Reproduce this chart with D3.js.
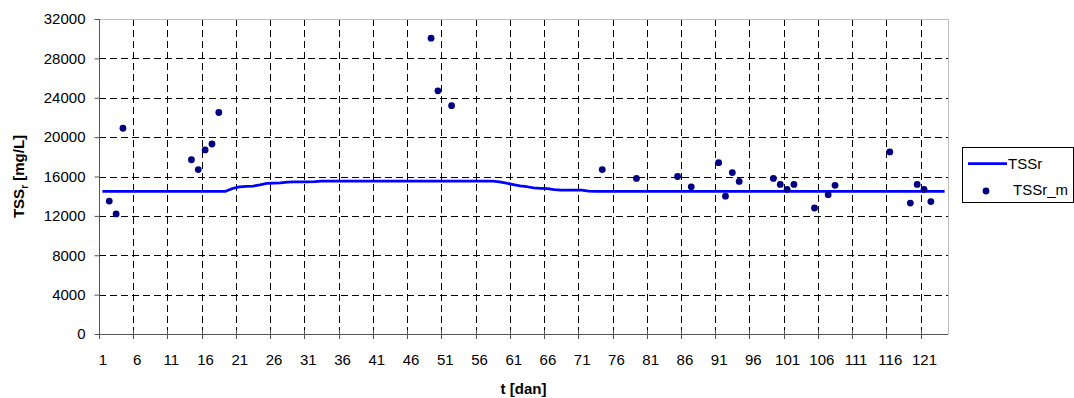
<!DOCTYPE html>
<html>
<head>
<meta charset="utf-8">
<script src="https://cdn.jsdelivr.net/npm/d3@7"></script>
<style>
  body { margin: 0; background: #fff; }
  svg { display: block; font-family: "Liberation Sans", Arial, sans-serif; }
</style>
</head>
<body>
<svg id="chart" width="1074" height="398"></svg>
<script>
// ---- data ----
const dayCount = 124;
const xTickLabels = [1, 6, 11, 16, 21, 26, 31, 36, 41, 46, 51, 56, 61, 66, 71, 76, 81, 86, 91, 96, 101, 106, 111, 116, 121];
const yTicks = [0, 4000, 8000, 12000, 16000, 20000, 24000, 28000, 32000];

// TSSr model line, one value per day (day 1..124)
const tssrLine = [
  14500, 14500, 14500, 14500, 14500, 14500, 14500, 14500, 14500, 14500,
  14500, 14500, 14500, 14500, 14500, 14500, 14500, 14500, 14500, 14780,
  14950, 15000, 15020, 15150, 15300, 15330, 15350, 15440, 15460, 15460,
  15460, 15470, 15530, 15530, 15530, 15530, 15530, 15530, 15530, 15530,
  15530, 15530, 15530, 15530, 15530, 15530, 15530, 15530, 15530, 15530,
  15530, 15530, 15530, 15530, 15530, 15530, 15530, 15530, 15450, 15320,
  15180, 15050, 14960, 14850, 14800, 14760, 14660, 14620, 14620, 14620,
  14620, 14520, 14500, 14500, 14500, 14500, 14500, 14500, 14500, 14500,
  14500, 14500, 14500, 14500, 14500, 14500, 14500, 14500, 14500, 14500,
  14500, 14500, 14500, 14500, 14500, 14500, 14500, 14500, 14500, 14500,
  14500, 14500, 14500, 14500, 14500, 14500, 14500, 14500, 14500, 14500,
  14500, 14500, 14500, 14500, 14500, 14500, 14500, 14500, 14500, 14500,
  14500, 14500, 14500, 14500
];

// TSSr_m measured points
const measDays   = [2, 3, 4, 14, 15, 16, 17, 18, 49, 50, 52, 74, 79, 85, 87, 91, 92, 93, 94, 99, 100, 101, 102, 105, 107, 108, 116, 119, 120, 121, 122];
const measValues = [13500, 12200, 20900, 17700, 16700, 18700, 19300, 22500, 30050, 24700, 23200, 16700, 15800, 16000, 14950, 17400, 14000, 16400, 15500, 15800, 15200, 14700, 15200, 12800, 14150, 15100, 18500, 13300, 15200, 14700, 13450];

const seriesNames = ["TSSr", "TSSr_m"];

// ---- layout ----
const L = 99, R = 948, T = 19, B = 334;
const svg = d3.select("#chart");

const x = d3.scaleLinear().domain([0.5, dayCount + 0.5]).range([L, R]);
const y = d3.scaleLinear().domain([0, 32000]).range([B, T]);
const crisp = v => Math.round(v) + 0.5;

// gridlines (horizontal)
svg.append("g").selectAll("line")
  .data(yTicks.filter(d => d > 0 && d < 32000))
  .join("line")
  .attr("x1", L).attr("x2", R)
  .attr("y1", d => crisp(y(d))).attr("y2", d => crisp(y(d)))
  .attr("stroke", "#000").attr("stroke-width", 1)
  .attr("stroke-dasharray", "7,4");

// gridlines (vertical), at category boundaries before each labelled category
const boundaries = xTickLabels.map(d => d - 0.5);
svg.append("g").selectAll("line")
  .data(boundaries.filter(d => d > 0.5))
  .join("line")
  .attr("x1", d => crisp(x(d))).attr("x2", d => crisp(x(d)))
  .attr("y1", T).attr("y2", B)
  .attr("stroke", "#000").attr("stroke-width", 1)
  .attr("stroke-dasharray", "7,4");

// plot border top/right (light gray)
svg.append("path")
  .attr("d", `M${crisp(L)},${crisp(T)}H${crisp(R)}V${crisp(B)}`)
  .attr("fill", "none").attr("stroke", "#c0c0c0").attr("stroke-width", 1);

// y axis
const yAxis = d3.axisLeft(y).tickValues(yTicks).tickSize(5).tickPadding(9).tickFormat(d3.format("d"));
const gy = svg.append("g").attr("transform", `translate(${crisp(L)},0)`).call(yAxis);
gy.select(".domain").attr("stroke", "#555").attr("d", `M0,${T}V${B}`);
gy.selectAll(".tick line").attr("stroke", "#555");
gy.selectAll(".tick text").attr("font-size", 15).attr("fill", "#000")
  .attr("font-family", "Liberation Sans, Arial, sans-serif");

// x axis labels at category centres
const xAxis = d3.axisBottom(x).tickValues(xTickLabels).tickSize(0).tickPadding(20).tickFormat(d3.format("d"));
const gx = svg.append("g").attr("transform", `translate(0,${crisp(B)})`).call(xAxis);
gx.select(".domain").remove();
gx.selectAll(".tick text").attr("font-size", 15).attr("fill", "#000")
  .attr("font-family", "Liberation Sans, Arial, sans-serif");

// x axis line and crossing tick marks at boundaries
svg.append("line")
  .attr("x1", L).attr("x2", R).attr("y1", crisp(B)).attr("y2", crisp(B))
  .attr("stroke", "#555").attr("stroke-width", 1);
svg.append("g").selectAll("line")
  .data(boundaries)
  .join("line")
  .attr("x1", d => crisp(x(d))).attr("x2", d => crisp(x(d)))
  .attr("y1", B - 4).attr("y2", B + 5)
  .attr("stroke", "#555").attr("stroke-width", 1);

// line series
const lineGen = d3.line().x((d, i) => x(i + 1)).y(d => y(d));
svg.append("path")
  .datum(tssrLine)
  .attr("d", lineGen)
  .attr("fill", "none").attr("stroke", "#0000ff").attr("stroke-width", 2.75)
  .attr("stroke-linejoin", "round");

// measured points
svg.append("g").selectAll("circle")
  .data(measDays.map((d, i) => [d, measValues[i]]))
  .join("circle")
  .attr("cx", d => x(d[0])).attr("cy", d => y(d[1]))
  .attr("r", 3.4).attr("fill", "#000080");

// axis titles
const yt = svg.append("text")
  .attr("transform", `translate(24,${(T + B) / 2}) rotate(-90)`)
  .attr("text-anchor", "middle").attr("font-size", 15).attr("font-weight", "bold");
yt.append("tspan").text("TSS");
yt.append("tspan").text("r").attr("font-size", 10).attr("dy", 4);
yt.append("tspan").text(" [mg/L]").attr("dy", -4);

svg.append("text")
  .attr("x", (L + R) / 2).attr("y", 394)
  .attr("text-anchor", "middle").attr("font-size", 15).attr("font-weight", "bold")
  .text("t [dan]");

// legend
const lg = svg.append("g");
lg.append("rect").attr("x", 962.5).attr("y", 147.5).attr("width", 111).attr("height", 55)
  .attr("fill", "#fff").attr("stroke", "#000").attr("stroke-width", 1);
lg.append("line").attr("x1", 968).attr("x2", 1007).attr("y1", 163.5).attr("y2", 163.5)
  .attr("stroke", "#0000ff").attr("stroke-width", 2.75);
lg.append("text").attr("x", 1008).attr("y", 168.5).attr("font-size", 15).text(seriesNames[0]);
lg.append("circle").attr("cx", 986).attr("cy", 191).attr("r", 3.4).attr("fill", "#000080");
lg.append("text").attr("x", 1013).attr("y", 195).attr("font-size", 15).text(seriesNames[1]);
</script>
</body>
</html>
